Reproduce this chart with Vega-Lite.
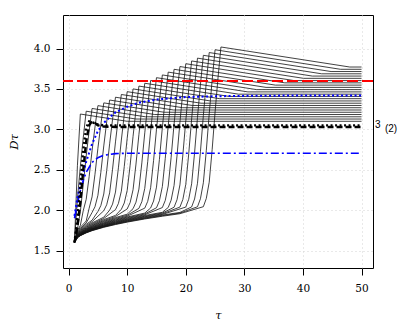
{
  "$schema": "https://vega.github.io/schema/vega-lite/v6.json",
  "width": 310,
  "height": 253,
  "autosize": "none",
  "padding": {"left": 63, "top": 15, "right": 42, "bottom": 64},
  "background": "white",
  "config": {
    "view": {"stroke": "#000", "strokeWidth": 1},
    "axis": {"grid": true, "gridColor": "#d3d3d3", "gridDash": [1, 3], "gridWidth": 1, "domain": false, "tickColor": "#000", "tickSize": 7, "labelFont": "DejaVu Serif", "labelFontSize": 10.5, "labelColor": "#000", "titleFont": "DejaVu Serif", "titleFontSize": 11.5, "titleFontWeight": "normal", "titleFontStyle": "italic", "titleColor": "#000"},
    "axisX": {"labelPadding": 8, "titlePadding": 16},
    "axisY": {"labelAngle": 0, "labelPadding": 6, "titlePadding": 14}
  },
  "datasets": {
    "fam": [
      {"k":0,"t":1,"d":1.6},{"k":0,"t":1.5,"d":2.55},{"k":0,"t":2,"d":3.19},{"k":0,"t":10,"d":3.1},{"k":0,"t":50,"d":3.1},
      {"k":1,"t":1,"d":1.6},{"k":1,"t":1.5,"d":2.14},{"k":1,"t":2,"d":2.54},{"k":1,"t":2.5,"d":2.9},{"k":1,"t":3,"d":3.225},{"k":1,"t":11.5,"d":3.128},{"k":1,"t":50,"d":3.128},
      {"k":2,"t":1,"d":1.6},{"k":2,"t":1.5,"d":1.76},{"k":2,"t":2,"d":1.98},{"k":2,"t":2.5,"d":2.32},{"k":2,"t":3,"d":2.67},{"k":2,"t":3.5,"d":2.98},{"k":2,"t":4,"d":3.259},{"k":2,"t":13.1,"d":3.156},{"k":2,"t":50,"d":3.156},
      {"k":3,"t":1,"d":1.6},{"k":3,"t":1.5,"d":1.749},{"k":3,"t":2,"d":1.81},{"k":3,"t":2.5,"d":1.995},{"k":3,"t":3,"d":2.134},{"k":3,"t":3.5,"d":2.414},{"k":3,"t":4,"d":2.735},{"k":3,"t":4.5,"d":3.029},{"k":3,"t":5,"d":3.294},{"k":3,"t":14.7,"d":3.184},{"k":3,"t":50,"d":3.184},
      {"k":4,"t":1,"d":1.6},{"k":4,"t":1.5,"d":1.733},{"k":4,"t":2,"d":1.788},{"k":4,"t":3,"d":1.866},{"k":4,"t":3.5,"d":2.023},{"k":4,"t":4,"d":2.164},{"k":4,"t":4.5,"d":2.444},{"k":4,"t":5,"d":2.767},{"k":4,"t":5.5,"d":3.061},{"k":4,"t":6,"d":3.328},{"k":4,"t":16.3,"d":3.212},{"k":4,"t":50,"d":3.212},
      {"k":5,"t":1,"d":1.6},{"k":5,"t":1.5,"d":1.721},{"k":5,"t":2,"d":1.771},{"k":5,"t":3,"d":1.842},{"k":5,"t":4,"d":1.971},{"k":5,"t":4.5,"d":2.042},{"k":5,"t":5,"d":2.184},{"k":5,"t":5.5,"d":2.468},{"k":5,"t":6,"d":2.795},{"k":5,"t":6.5,"d":3.093},{"k":5,"t":7,"d":3.363},{"k":5,"t":17.9,"d":3.24},{"k":5,"t":50,"d":3.24},
      {"k":6,"t":1,"d":1.6},{"k":6,"t":1.5,"d":1.712},{"k":6,"t":2,"d":1.759},{"k":6,"t":3,"d":1.825},{"k":6,"t":4,"d":1.875},{"k":6,"t":5,"d":1.984},{"k":6,"t":5.5,"d":2.056},{"k":6,"t":6,"d":2.2},{"k":6,"t":6.5,"d":2.489},{"k":6,"t":7,"d":2.821},{"k":6,"t":7.5,"d":3.124},{"k":6,"t":8,"d":3.398},{"k":6,"t":19.5,"d":3.268},{"k":6,"t":50,"d":3.268},
      {"k":7,"t":1,"d":1.6},{"k":7,"t":1.5,"d":1.705},{"k":7,"t":2,"d":1.748},{"k":7,"t":3,"d":1.81},{"k":7,"t":4,"d":1.857},{"k":7,"t":6,"d":1.993},{"k":7,"t":6.5,"d":2.067},{"k":7,"t":7,"d":2.214},{"k":7,"t":7.5,"d":2.507},{"k":7,"t":8,"d":2.845},{"k":7,"t":8.5,"d":3.153},{"k":7,"t":9,"d":3.432},{"k":7,"t":21.1,"d":3.296},{"k":7,"t":50,"d":3.296},
      {"k":8,"t":1,"d":1.6},{"k":8,"t":1.5,"d":1.699},{"k":8,"t":2,"d":1.74},{"k":8,"t":3,"d":1.798},{"k":8,"t":4,"d":1.842},{"k":8,"t":6,"d":1.913},{"k":8,"t":7,"d":2.0},{"k":8,"t":7.5,"d":2.075},{"k":8,"t":8,"d":2.224},{"k":8,"t":8.5,"d":2.524},{"k":8,"t":9,"d":2.868},{"k":8,"t":9.5,"d":3.183},{"k":8,"t":10,"d":3.467},{"k":8,"t":22.6,"d":3.324},{"k":8,"t":50,"d":3.324},
      {"k":9,"t":1,"d":1.6},{"k":9,"t":1.5,"d":1.694},{"k":9,"t":2,"d":1.733},{"k":9,"t":3,"d":1.788},{"k":9,"t":4,"d":1.83},{"k":9,"t":6,"d":1.897},{"k":9,"t":8,"d":2.007},{"k":9,"t":8.5,"d":2.083},{"k":9,"t":9,"d":2.235},{"k":9,"t":9.5,"d":2.54},{"k":9,"t":10,"d":2.891},{"k":9,"t":10.5,"d":3.211},{"k":9,"t":11,"d":3.501},{"k":9,"t":24.2,"d":3.352},{"k":9,"t":50,"d":3.352},
      {"k":10,"t":1,"d":1.6},{"k":10,"t":1.5,"d":1.69},{"k":10,"t":2,"d":1.727},{"k":10,"t":3,"d":1.779},{"k":10,"t":4,"d":1.819},{"k":10,"t":6,"d":1.883},{"k":10,"t":8,"d":1.935},{"k":10,"t":9,"d":2.011},{"k":10,"t":9.5,"d":2.089},{"k":10,"t":10,"d":2.245},{"k":10,"t":10.5,"d":2.556},{"k":10,"t":11,"d":2.914},{"k":10,"t":11.5,"d":3.24},{"k":10,"t":12,"d":3.536},{"k":10,"t":25.8,"d":3.38},{"k":10,"t":50,"d":3.38},
      {"k":11,"t":1,"d":1.6},{"k":11,"t":1.5,"d":1.686},{"k":11,"t":2,"d":1.721},{"k":11,"t":3,"d":1.771},{"k":11,"t":4,"d":1.81},{"k":11,"t":6,"d":1.871},{"k":11,"t":8,"d":1.921},{"k":11,"t":10,"d":2.015},{"k":11,"t":10.5,"d":2.094},{"k":11,"t":11,"d":2.253},{"k":11,"t":11.5,"d":2.571},{"k":11,"t":12,"d":2.936},{"k":11,"t":12.5,"d":3.269},{"k":11,"t":13,"d":3.571},{"k":11,"t":27.4,"d":3.408},{"k":11,"t":50,"d":3.408},
      {"k":12,"t":1,"d":1.6},{"k":12,"t":1.5,"d":1.682},{"k":12,"t":2,"d":1.717},{"k":12,"t":3,"d":1.765},{"k":12,"t":4,"d":1.802},{"k":12,"t":6,"d":1.861},{"k":12,"t":8,"d":1.908},{"k":12,"t":10,"d":1.95},{"k":12,"t":11,"d":2.018},{"k":12,"t":11.5,"d":2.099},{"k":12,"t":12,"d":2.261},{"k":12,"t":12.5,"d":2.585},{"k":12,"t":13,"d":2.957},{"k":12,"t":13.5,"d":3.297},{"k":12,"t":14,"d":3.605},{"k":12,"t":29,"d":3.436},{"k":12,"t":50,"d":3.436},
      {"k":13,"t":1,"d":1.6},{"k":13,"t":1.5,"d":1.679},{"k":13,"t":2,"d":1.712},{"k":13,"t":3,"d":1.759},{"k":13,"t":4,"d":1.794},{"k":13,"t":6,"d":1.851},{"k":13,"t":8,"d":1.897},{"k":13,"t":10,"d":1.937},{"k":13,"t":12,"d":2.022},{"k":13,"t":12.5,"d":2.105},{"k":13,"t":13,"d":2.27},{"k":13,"t":13.5,"d":2.6},{"k":13,"t":14,"d":2.98},{"k":13,"t":14.5,"d":3.326},{"k":13,"t":15,"d":3.64},{"k":13,"t":30.6,"d":3.464},{"k":13,"t":50,"d":3.464},
      {"k":14,"t":1,"d":1.6},{"k":14,"t":1.5,"d":1.677},{"k":14,"t":2,"d":1.708},{"k":14,"t":3,"d":1.753},{"k":14,"t":4,"d":1.788},{"k":14,"t":6,"d":1.842},{"k":14,"t":8,"d":1.887},{"k":14,"t":10,"d":1.925},{"k":14,"t":13,"d":2.025},{"k":14,"t":13.5,"d":2.109},{"k":14,"t":14,"d":2.277},{"k":14,"t":14.5,"d":2.614},{"k":14,"t":15,"d":3.001},{"k":14,"t":15.5,"d":3.354},{"k":14,"t":16,"d":3.674},{"k":14,"t":32.1,"d":3.492},{"k":14,"t":50,"d":3.492},
      {"k":15,"t":1,"d":1.6},{"k":15,"t":1.5,"d":1.674},{"k":15,"t":2,"d":1.705},{"k":15,"t":3,"d":1.749},{"k":15,"t":4,"d":1.782},{"k":15,"t":6,"d":1.835},{"k":15,"t":8,"d":1.878},{"k":15,"t":10,"d":1.915},{"k":15,"t":13,"d":1.964},{"k":15,"t":14,"d":2.027},{"k":15,"t":14.5,"d":2.113},{"k":15,"t":15,"d":2.285},{"k":15,"t":15.5,"d":2.628},{"k":15,"t":16,"d":3.023},{"k":15,"t":16.5,"d":3.383},{"k":15,"t":17,"d":3.709},{"k":15,"t":33.7,"d":3.52},{"k":15,"t":50,"d":3.52},
      {"k":16,"t":1,"d":1.6},{"k":16,"t":1.5,"d":1.672},{"k":16,"t":2,"d":1.702},{"k":16,"t":3,"d":1.744},{"k":16,"t":4,"d":1.776},{"k":16,"t":6,"d":1.828},{"k":16,"t":8,"d":1.87},{"k":16,"t":10,"d":1.906},{"k":16,"t":13,"d":1.953},{"k":16,"t":15,"d":2.03},{"k":16,"t":15.5,"d":2.117},{"k":16,"t":16,"d":2.292},{"k":16,"t":16.5,"d":2.642},{"k":16,"t":17,"d":3.044},{"k":16,"t":17.5,"d":3.412},{"k":16,"t":18,"d":3.744},{"k":16,"t":35.3,"d":3.548},{"k":16,"t":50,"d":3.548},
      {"k":17,"t":1,"d":1.6},{"k":17,"t":1.5,"d":1.67},{"k":17,"t":2,"d":1.699},{"k":17,"t":3,"d":1.74},{"k":17,"t":4,"d":1.771},{"k":17,"t":6,"d":1.821},{"k":17,"t":8,"d":1.862},{"k":17,"t":10,"d":1.897},{"k":17,"t":13,"d":1.943},{"k":17,"t":16,"d":2.032},{"k":17,"t":16.5,"d":2.121},{"k":17,"t":17,"d":2.299},{"k":17,"t":17.5,"d":2.655},{"k":17,"t":18,"d":3.065},{"k":17,"t":18.5,"d":3.439},{"k":17,"t":19,"d":3.778},{"k":17,"t":36.9,"d":3.576},{"k":17,"t":50,"d":3.576},
      {"k":18,"t":1,"d":1.6},{"k":18,"t":1.5,"d":1.668},{"k":18,"t":2,"d":1.696},{"k":18,"t":3,"d":1.736},{"k":18,"t":4,"d":1.767},{"k":18,"t":6,"d":1.815},{"k":18,"t":8,"d":1.855},{"k":18,"t":10,"d":1.889},{"k":18,"t":13,"d":1.934},{"k":18,"t":16,"d":1.973},{"k":18,"t":17,"d":2.033},{"k":18,"t":17.5,"d":2.124},{"k":18,"t":18,"d":2.306},{"k":18,"t":18.5,"d":2.669},{"k":18,"t":19,"d":3.087},{"k":18,"t":19.5,"d":3.468},{"k":18,"t":20,"d":3.813},{"k":18,"t":38.5,"d":3.604},{"k":18,"t":50,"d":3.604},
      {"k":19,"t":1,"d":1.6},{"k":19,"t":1.5,"d":1.666},{"k":19,"t":2,"d":1.694},{"k":19,"t":3,"d":1.733},{"k":19,"t":4,"d":1.763},{"k":19,"t":6,"d":1.81},{"k":19,"t":8,"d":1.849},{"k":19,"t":10,"d":1.882},{"k":19,"t":13,"d":1.925},{"k":19,"t":16,"d":1.964},{"k":19,"t":18,"d":2.036},{"k":19,"t":18.5,"d":2.128},{"k":19,"t":19,"d":2.313},{"k":19,"t":19.5,"d":2.683},{"k":19,"t":20,"d":3.108},{"k":19,"t":20.5,"d":3.496},{"k":19,"t":21,"d":3.847},{"k":19,"t":40.1,"d":3.632},{"k":19,"t":50,"d":3.632},
      {"k":20,"t":1,"d":1.6},{"k":20,"t":1.5,"d":1.665},{"k":20,"t":2,"d":1.692},{"k":20,"t":3,"d":1.73},{"k":20,"t":4,"d":1.759},{"k":20,"t":6,"d":1.805},{"k":20,"t":8,"d":1.843},{"k":20,"t":10,"d":1.875},{"k":20,"t":13,"d":1.918},{"k":20,"t":16,"d":1.955},{"k":20,"t":19,"d":2.038},{"k":20,"t":19.5,"d":2.132},{"k":20,"t":20,"d":2.32},{"k":20,"t":20.5,"d":2.696},{"k":20,"t":21,"d":3.129},{"k":20,"t":21.5,"d":3.524},{"k":20,"t":22,"d":3.882},{"k":20,"t":41.6,"d":3.66},{"k":20,"t":50,"d":3.66},
      {"k":21,"t":1,"d":1.6},{"k":21,"t":1.5,"d":1.663},{"k":21,"t":2,"d":1.69},{"k":21,"t":3,"d":1.727},{"k":21,"t":4,"d":1.755},{"k":21,"t":6,"d":1.8},{"k":21,"t":8,"d":1.837},{"k":21,"t":10,"d":1.869},{"k":21,"t":13,"d":1.91},{"k":21,"t":16,"d":1.947},{"k":21,"t":20,"d":2.038},{"k":21,"t":20.5,"d":2.134},{"k":21,"t":21,"d":2.326},{"k":21,"t":21.5,"d":2.709},{"k":21,"t":22,"d":3.15},{"k":21,"t":22.5,"d":3.553},{"k":21,"t":23,"d":3.917},{"k":21,"t":43.2,"d":3.688},{"k":21,"t":50,"d":3.688},
      {"k":22,"t":1,"d":1.6},{"k":22,"t":1.5,"d":1.662},{"k":22,"t":2,"d":1.688},{"k":22,"t":3,"d":1.724},{"k":22,"t":4,"d":1.752},{"k":22,"t":6,"d":1.796},{"k":22,"t":8,"d":1.832},{"k":22,"t":10,"d":1.863},{"k":22,"t":13,"d":1.903},{"k":22,"t":16,"d":1.939},{"k":22,"t":19,"d":1.972},{"k":22,"t":21,"d":2.04},{"k":22,"t":21.5,"d":2.138},{"k":22,"t":22,"d":2.333},{"k":22,"t":22.5,"d":2.723},{"k":22,"t":23,"d":3.171},{"k":22,"t":23.5,"d":3.581},{"k":22,"t":24,"d":3.951},{"k":22,"t":44.8,"d":3.716},{"k":22,"t":50,"d":3.716},
      {"k":23,"t":1,"d":1.6},{"k":23,"t":1.5,"d":1.661},{"k":23,"t":2,"d":1.686},{"k":23,"t":3,"d":1.721},{"k":23,"t":4,"d":1.749},{"k":23,"t":6,"d":1.792},{"k":23,"t":8,"d":1.827},{"k":23,"t":10,"d":1.857},{"k":23,"t":13,"d":1.897},{"k":23,"t":16,"d":1.932},{"k":23,"t":19,"d":1.964},{"k":23,"t":22,"d":2.042},{"k":23,"t":22.5,"d":2.141},{"k":23,"t":23,"d":2.339},{"k":23,"t":23.5,"d":2.736},{"k":23,"t":24,"d":3.192},{"k":23,"t":24.5,"d":3.609},{"k":23,"t":25,"d":3.986},{"k":23,"t":46.4,"d":3.744},{"k":23,"t":50,"d":3.744},
      {"k":24,"t":1,"d":1.6},{"k":24,"t":1.5,"d":1.659},{"k":24,"t":2,"d":1.684},{"k":24,"t":3,"d":1.719},{"k":24,"t":4,"d":1.746},{"k":24,"t":6,"d":1.788},{"k":24,"t":8,"d":1.822},{"k":24,"t":10,"d":1.852},{"k":24,"t":13,"d":1.891},{"k":24,"t":16,"d":1.925},{"k":24,"t":19,"d":1.956},{"k":24,"t":23,"d":2.043},{"k":24,"t":23.5,"d":2.144},{"k":24,"t":24,"d":2.346},{"k":24,"t":24.5,"d":2.749},{"k":24,"t":25,"d":3.213},{"k":24,"t":25.5,"d":3.637},{"k":24,"t":26,"d":4.02},{"k":24,"t":48,"d":3.772},{"k":24,"t":50,"d":3.772}
    ],
    "ref": [
      {"s":"bdot","t":1,"d":1.93},{"s":"bdot","t":1.5,"d":2.15},{"s":"bdot","t":2,"d":2.32},{"s":"bdot","t":3,"d":2.6},{"s":"bdot","t":4,"d":2.82},{"s":"bdot","t":5,"d":2.98},{"s":"bdot","t":6,"d":3.08},{"s":"bdot","t":7,"d":3.15},{"s":"bdot","t":8,"d":3.21},{"s":"bdot","t":10,"d":3.28},{"s":"bdot","t":12,"d":3.33},{"s":"bdot","t":15,"d":3.37},{"s":"bdot","t":20,"d":3.4},{"s":"bdot","t":25,"d":3.41},{"s":"bdot","t":30,"d":3.415},{"s":"bdot","t":40,"d":3.42},{"s":"bdot","t":50,"d":3.42},
      {"s":"bdd","t":1,"d":1.9},{"s":"bdd","t":1.5,"d":2.08},{"s":"bdd","t":2,"d":2.24},{"s":"bdd","t":2.5,"d":2.37},{"s":"bdd","t":3,"d":2.47},{"s":"bdd","t":4,"d":2.59},{"s":"bdd","t":5,"d":2.65},{"s":"bdd","t":6,"d":2.68},{"s":"bdd","t":8,"d":2.7},{"s":"bdd","t":10,"d":2.705},{"s":"bdd","t":50,"d":2.705},
      {"s":"kdash","t":1,"d":1.6},{"s":"kdash","t":1.5,"d":1.8},{"s":"kdash","t":2,"d":2.1},{"s":"kdash","t":2.5,"d":2.5},{"s":"kdash","t":3,"d":2.85},{"s":"kdash","t":3.5,"d":3.05},{"s":"kdash","t":4,"d":3.1},{"s":"kdash","t":4.5,"d":3.08},{"s":"kdash","t":5,"d":3.05},{"s":"kdash","t":6,"d":3.035},{"s":"kdash","t":8,"d":3.03},{"s":"kdash","t":50,"d":3.03},
      {"s":"kdot","t":1,"d":1.6},{"s":"kdot","t":1.5,"d":1.9},{"s":"kdot","t":2,"d":2.3},{"s":"kdot","t":2.5,"d":2.75},{"s":"kdot","t":3,"d":3.02},{"s":"kdot","t":3.5,"d":3.1},{"s":"kdot","t":4,"d":3.09},{"s":"kdot","t":5,"d":3.06},{"s":"kdot","t":6,"d":3.05},{"s":"kdot","t":50,"d":3.05}
    ]
  },
  "layer": [
    {
      "data": {"name": "fam"},
      "mark": {"type": "line", "color": "#111", "strokeWidth": 0.8},
      "encoding": {
        "x": {"field": "t", "type": "quantitative", "title": "τ", "scale": {"domain": [-0.96, 51.96], "nice": false, "zero": false}, "axis": {"values": [0, 10, 20, 30, 40, 50]}},
        "y": {"field": "d", "type": "quantitative", "title": "Dτ", "scale": {"domain": [1.284, 4.416], "nice": false, "zero": false}, "axis": {"values": [1.5, 2, 2.5, 3, 3.5, 4], "format": ".1f"}},
        "detail": {"field": "k", "type": "nominal"}
      }
    },
    {
      "data": {"name": "ref"},
      "transform": [{"filter": "datum.s == 'bdd'"}],
      "mark": {"type": "line", "color": "#0000ff", "strokeWidth": 1.6, "strokeDash": [8, 3, 2, 3]},
      "encoding": {
        "x": {"field": "t", "type": "quantitative", "title": "τ", "scale": {"domain": [-0.96, 51.96], "nice": false, "zero": false}},
        "y": {"field": "d", "type": "quantitative", "title": "Dτ", "scale": {"domain": [1.284, 4.416], "nice": false, "zero": false}}
      }
    },
    {
      "data": {"name": "ref"},
      "transform": [{"filter": "datum.s == 'bdot'"}],
      "mark": {"type": "line", "color": "#0000ff", "strokeWidth": 2, "strokeDash": [2, 2.5]},
      "encoding": {
        "x": {"field": "t", "type": "quantitative", "title": "τ", "scale": {"domain": [-0.96, 51.96], "nice": false, "zero": false}},
        "y": {"field": "d", "type": "quantitative", "title": "Dτ", "scale": {"domain": [1.284, 4.416], "nice": false, "zero": false}}
      }
    },
    {
      "data": {"name": "ref"},
      "transform": [{"filter": "datum.s == 'kdash'"}],
      "mark": {"type": "line", "color": "#000", "strokeWidth": 2.4, "strokeDash": [6, 3]},
      "encoding": {
        "x": {"field": "t", "type": "quantitative", "title": "τ", "scale": {"domain": [-0.96, 51.96], "nice": false, "zero": false}},
        "y": {"field": "d", "type": "quantitative", "title": "Dτ", "scale": {"domain": [1.284, 4.416], "nice": false, "zero": false}}
      }
    },
    {
      "data": {"name": "ref"},
      "transform": [{"filter": "datum.s == 'kdot'"}],
      "mark": {"type": "line", "color": "#000", "strokeWidth": 2.4, "strokeDash": [2, 2.5]},
      "encoding": {
        "x": {"field": "t", "type": "quantitative", "title": "τ", "scale": {"domain": [-0.96, 51.96], "nice": false, "zero": false}},
        "y": {"field": "d", "type": "quantitative", "title": "Dτ", "scale": {"domain": [1.284, 4.416], "nice": false, "zero": false}}
      }
    },
    {
      "data": {"values": [{"h": 3.6}]},
      "mark": {"type": "rule", "color": "#ff0000", "strokeWidth": 2, "strokeDash": [11, 4]},
      "encoding": {
        "y": {"field": "h", "type": "quantitative", "title": "Dτ", "scale": {"domain": [1.284, 4.416], "nice": false, "zero": false}}
      }
    },
    {
      "data": {"values": [{"t": 52.3, "d": 3.05, "lab": "3"}, {"t": 54.0, "d": 3.0, "lab": "(2)"}]},
      "mark": {"type": "text", "font": "Liberation Sans", "fontSize": 10, "color": "#000", "align": "left", "baseline": "middle"},
      "encoding": {
        "x": {"field": "t", "type": "quantitative", "title": "τ", "scale": {"domain": [-0.96, 51.96], "nice": false, "zero": false}},
        "y": {"field": "d", "type": "quantitative", "title": "Dτ", "scale": {"domain": [1.284, 4.416], "nice": false, "zero": false}},
        "text": {"field": "lab"}
      }
    }
  ]
}
